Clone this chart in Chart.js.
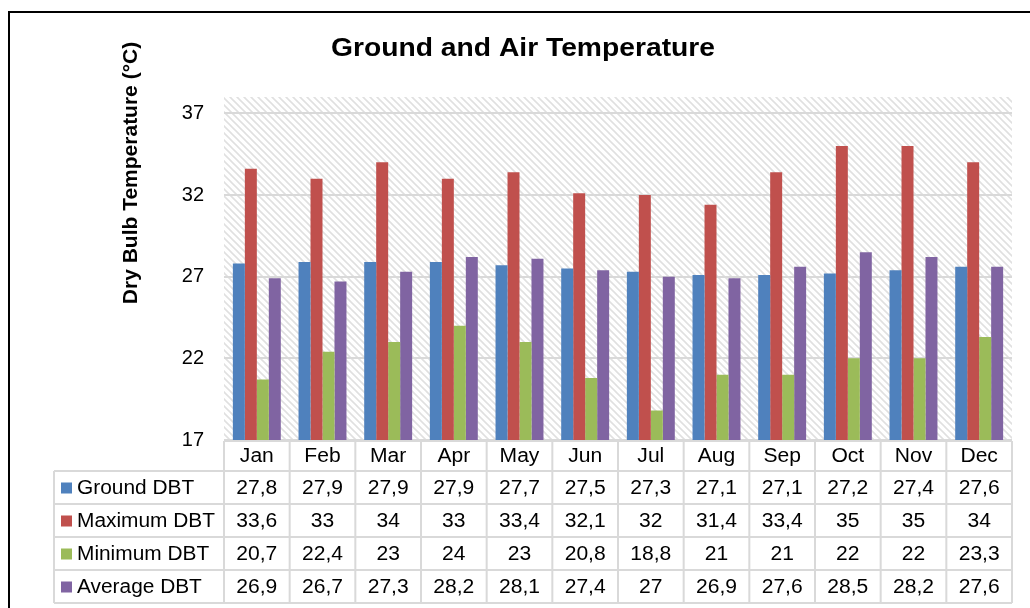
<!DOCTYPE html>
<html>
<head>
<meta charset="utf-8">
<script src="https://cdn.jsdelivr.net/npm/chart.js@4"></script>
<style>
  html, body { margin: 0; padding: 0; background: #fff; }
  #wrap { width: 1030px; height: 608px; }
</style>
</head>
<body>
<div id="wrap"><canvas id="chart" width="1030" height="608"></canvas></div>
<script>
const months = ['Jan', 'Feb', 'Mar', 'Apr', 'May', 'Jun', 'Jul', 'Aug', 'Sep', 'Oct', 'Nov', 'Dec'];
const groundDBT = [27.8, 27.9, 27.9, 27.9, 27.7, 27.5, 27.3, 27.1, 27.1, 27.2, 27.4, 27.6];
const maximumDBT = [33.6, 33, 34, 33, 33.4, 32.1, 32, 31.4, 33.4, 35, 35, 34];
const minimumDBT = [20.7, 22.4, 23, 24, 23, 20.8, 18.8, 21, 21, 22, 22, 23.3];
const averageDBT = [26.9, 26.7, 27.3, 28.2, 28.1, 27.4, 27, 26.9, 27.6, 28.5, 28.2, 27.6];
const seriesNames = ['Ground DBT', 'Maximum DBT', 'Minimum DBT', 'Average DBT'];
const seriesColors = ['#4F81BD', '#C0504D', '#9BBB59', '#8064A2'];
const yTicks = [17, 22, 27, 32, 37];

const FONT = '"Liberation Sans", Arial, sans-serif';

// hatched background like Excel's "wide downward diagonal"
function makeHatch(ctx) {
  const c = document.createElement('canvas');
  c.width = 7; c.height = 7;
  const p = c.getContext('2d');
  p.strokeStyle = '#e0e0e0';
  p.lineWidth = 1.6;
  p.beginPath();
  p.moveTo(-2, -2); p.lineTo(9, 9);
  p.moveTo(-2, 5); p.lineTo(2, 9);
  p.moveTo(5, -2); p.lineTo(9, 2);
  p.stroke();
  return ctx.createPattern(c, 'repeat');
}

function stretchText(ctx, text, x, y, sx) {
  ctx.save();
  ctx.translate(x, y);
  ctx.scale(sx, 1);
  ctx.fillText(text, 0, 0);
  ctx.restore();
}

const fmt = v => String(v).replace('.', ',');

const extras = {
  id: 'extras',
  beforeDraw(chart) {
    const { ctx, chartArea: a } = chart;
    ctx.save();
    ctx.fillStyle = makeHatch(ctx);
    ctx.fillRect(a.left, a.top, a.right - a.left, a.bottom - a.top);
    ctx.restore();
  },
  afterDraw(chart) {
    const { ctx, chartArea: a } = chart;
    const x = chart.scales.x;
    const all = [groundDBT, maximumDBT, minimumDBT, averageDBT];

    ctx.save();
    // outer frame
    ctx.strokeStyle = '#000';
    ctx.lineWidth = 2;
    ctx.strokeRect(9, 12, 1040, 620);

    // title
    ctx.fillStyle = '#000';
    ctx.font = 'bold 25px ' + FONT;
    ctx.textAlign = 'center';
    ctx.textBaseline = 'middle';
    stretchText(ctx, 'Ground and Air Temperature', 523, 49, 1.13);

    // y title
    ctx.save();
    ctx.translate(131, 173);
    ctx.rotate(-Math.PI / 2);
    ctx.font = 'bold 21px ' + FONT;
    ctx.fillText('Dry Bulb Temperature (\u00B0C)', 0, 0);
    ctx.restore();

    // data table
    const half = (x.getPixelForValue(1) - x.getPixelForValue(0)) / 2;
    const headTop = a.bottom + 1, headH = 30, rowH = 33;
    const tableLeft = 54;
    ctx.strokeStyle = '#d9d9d9';
    ctx.lineWidth = 2;
    ctx.beginPath();
    ctx.moveTo(a.left, headTop); ctx.lineTo(a.right, headTop);
    for (let r = 0; r <= 4; r++) {
      const yy = headTop + headH + r * rowH;
      ctx.moveTo(tableLeft, yy); ctx.lineTo(a.right, yy);
    }
    const bottom = headTop + headH + 4 * rowH;
    ctx.moveTo(tableLeft, headTop + headH); ctx.lineTo(tableLeft, bottom);
    for (let i = 0; i <= months.length; i++) {
      const xx = x.getPixelForValue(i) - half;
      ctx.moveTo(xx, headTop); ctx.lineTo(xx, bottom);
    }
    ctx.stroke();

    ctx.font = '19.5px ' + FONT;
    ctx.fillStyle = '#000';
    ctx.textAlign = 'center';
    months.forEach((m, i) => {
      stretchText(ctx, m, x.getPixelForValue(i), headTop + headH / 2 + 1, 1.08);
    });
    all.forEach((vals, r) => {
      const cy = headTop + headH + r * rowH + rowH / 2 + 1;
      vals.forEach((v, i) => {
        stretchText(ctx, fmt(v), x.getPixelForValue(i), cy, 1.08);
      });
      ctx.fillStyle = seriesColors[r];
      ctx.fillRect(61, cy - 6, 11, 11);
      ctx.fillStyle = '#000';
      ctx.textAlign = 'left';
      stretchText(ctx, seriesNames[r], 77, cy, 1.07);
      ctx.textAlign = 'center';
    });
    ctx.restore();
  }
};

new Chart(document.getElementById('chart').getContext('2d'), {
  type: 'bar',
  data: {
    labels: months,
    datasets: [groundDBT, maximumDBT, minimumDBT, averageDBT].map((d, i) => ({
      label: seriesNames[i],
      data: d,
      backgroundColor: seriesColors[i],
      borderWidth: 0,
      barPercentage: 1,
      categoryPercentage: 0.73,
    })),
  },
  options: {
    responsive: false,
    animation: false,
    layout: { padding: { left: 164, right: 18, top: 97, bottom: 168 } },
    plugins: {
      legend: { display: false },
      title: { display: false },
      tooltip: { enabled: false },
    },
    scales: {
      x: { display: false },
      y: {
        min: 17,
        max: 38,
        afterBuildTicks: s => { s.ticks = yTicks.map(v => ({ value: v })); },
        afterFit: s => { s.width = 60; },
        border: { display: false },
        grid: { color: '#d9d9d9', lineWidth: 2, drawTicks: false },
        ticks: {
          padding: 20,
          color: '#000',
          font: { family: FONT, size: 20 },
        },
      },
    },
  },
  plugins: [extras],
});
</script>
</body>
</html>
